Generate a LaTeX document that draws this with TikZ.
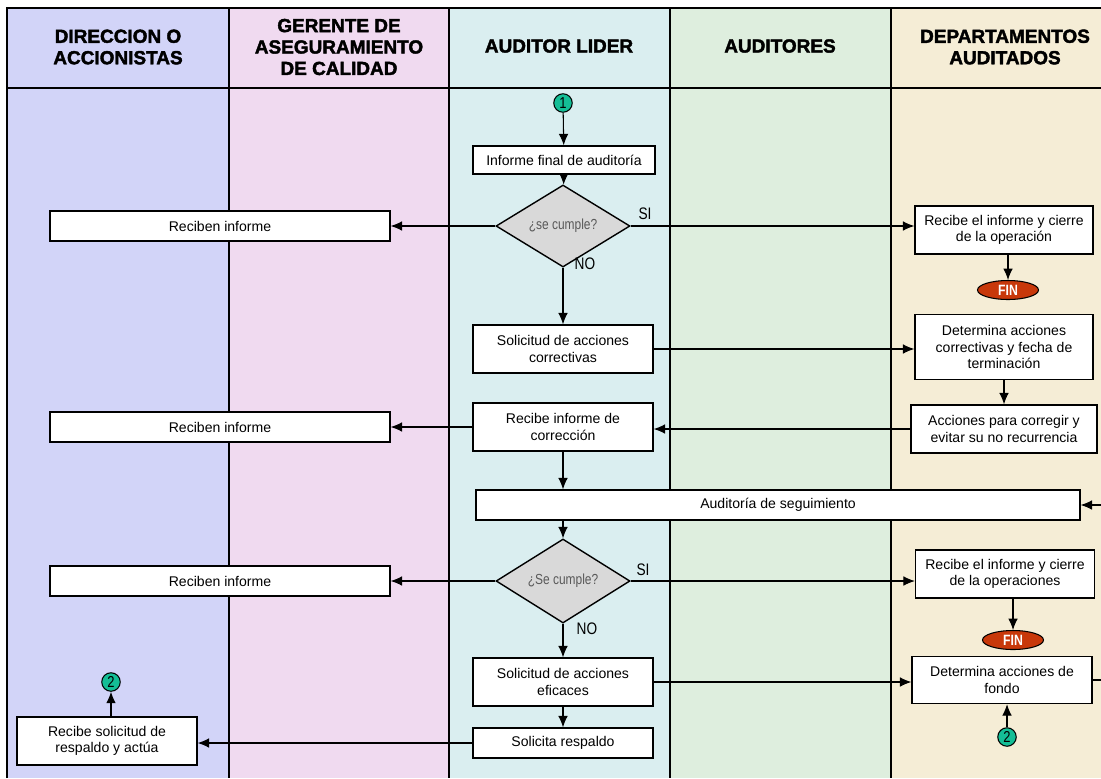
\documentclass[tikz,border=0pt]{standalone}
\usepackage{fontspec}
\setmainfont{Liberation Sans}
\newfontfamily\estrecha[FakeStretch=0.82]{Liberation Sans}
\newfontfamily\gruesa[BoldFeatures={FakeBold=2}]{Liberation Sans}
\usetikzlibrary{shapes.geometric,arrows.meta}

% Colores de los carriles
\definecolor{lila}{RGB}{210,212,248}
\definecolor{rosa}{RGB}{240,218,240}
\definecolor{celeste}{RGB}{218,238,240}
\definecolor{verdeclaro}{RGB}{222,238,222}
\definecolor{beige}{RGB}{245,237,214}
\definecolor{finrojo}{RGB}{200,56,10}
\definecolor{verdeconector}{RGB}{20,190,150}

\tikzset{
	carril/.style={draw=black, line width=0.8pt},
	titulo/.style={align=center, font=\gruesa\bfseries\fontsize{10.8}{12.2}\selectfont},
	caja/.style={draw, fill=white, line width=0.8pt, align=center, inner sep=1pt, font=\fontsize{8}{9.4}\selectfont},
	decision/.style={diamond, draw, fill=black!15, line width=0.8pt, minimum width=2.68cm, minimum height=1.16cm, inner sep=0pt, text=black!65, font=\estrecha\fontsize{8.3}{9}\selectfont},
	fin/.style={ellipse, draw=black, fill=finrojo, line width=0.6pt, minimum width=1.22cm, minimum height=0.38cm, inner sep=0pt, text=white, font=\estrecha\bfseries\fontsize{8.5}{9}\selectfont},
	conector/.style={circle, draw, fill=verdeconector, line width=0.6pt, minimum size=0.37cm, inner sep=0pt, font=\estrecha\fontsize{9}{9}\selectfont},
	rotulo/.style={font=\estrecha\fontsize{9.5}{10}\selectfont},
	flecha/.style={-{Latex[length=6.5pt,width=5.5pt]}, line width=0.6pt},
}

\begin{document}
\begin{tikzpicture}[x=0.02cm,y=-0.02cm]
		\useasboundingbox (0,0) rectangle (1101,778);
		\clip (0,0) rectangle (1101,778);

		% Carriles
		\fill[lila]       (7,8)   rectangle (229,778);
		\fill[rosa]       (229,8) rectangle (449,778);
		\fill[celeste]    (449,8) rectangle (670,778);
		\fill[verdeclaro] (670,8) rectangle (891,778);
		\fill[beige]      (891,8) rectangle (1110,778);
		\draw[carril] (7,778) -- (7,8) -- (1110,8);
		\draw[carril] (7,88) -- (1110,88);
		\foreach \x in {229,449,670,891}
			\draw[carril] (\x,8) -- (\x,778);

		% Titulos
		\node[titulo] (tdir) at (118,47)  {DIRECCION O\\ACCIONISTAS};
		\node[titulo] (tger) at (339,47)  {GERENTE DE\\ASEGURAMIENTO\\DE CALIDAD};
		\node[titulo] (tlid) at (559,46)  {AUDITOR LIDER};
		\node[titulo] (taud) at (780,46)  {AUDITORES};
		\node[titulo] (tdep) at (1005,47) {DEPARTAMENTOS\\AUDITADOS};

		% Primera revision
		\node[conector] (c1) at (563,103) {1};
		\node[caja, minimum width=3.64cm, minimum height=0.56cm] (informe) at (564,160) {Informe final de auditoría};
		\node[decision] (dec1) at (563,226) {¿se cumple?};
		\node[caja, minimum width=6.8cm, minimum height=0.6cm] (recibe1) at (220,226) {Reciben informe};
		\node[caja, minimum width=3.56cm, minimum height=0.96cm] (cierre1) at (1004,230) {Recibe el informe y cierre\\de la operación};
		\node[fin] (fin1) at (1008,290) {FIN};
		\node[rotulo] (si1) at (645,214) {SI};
		\node[rotulo] (no1) at (585,264) {NO};

		% Acciones correctivas
		\node[caja, minimum width=3.6cm, minimum height=0.96cm] (solcorr) at (563,349) {Solicitud de acciones\\correctivas};
		\node[caja, minimum width=3.56cm, minimum height=1.3cm] (detcorr) at (1004,347) {Determina acciones\\correctivas y fecha de\\terminación};
		\node[caja, minimum width=3.72cm, minimum height=0.96cm] (acciones) at (1004,429) {Acciones para corregir y\\evitar su no recurrencia};
		\node[caja, minimum width=3.6cm, minimum height=0.96cm] (recorr) at (563,427) {Recibe informe de\\corrección};
		\node[caja, minimum width=6.8cm, minimum height=0.6cm] (recibe2) at (220,427) {Reciben informe};
		\node[caja, minimum width=12.08cm, minimum height=0.6cm] (seguimiento) at (778,505) {Auditoría de seguimiento};

		% Segunda revision
		\node[decision] (dec2) at (563,581) {¿Se cumple?};
		\node[caja, minimum width=6.8cm, minimum height=0.6cm] (recibe3) at (220,581) {Reciben informe};
		\node[caja, minimum width=3.58cm, minimum height=0.96cm] (cierre2) at (1005,574) {Recibe el informe y cierre\\de la operaciones};
		\node[fin] (fin2) at (1013,640) {FIN};
		\node[rotulo] (si2) at (643,570) {SI};
		\node[rotulo] (no2) at (587,629) {NO};

		% Acciones de fondo y respaldo
		\node[caja, minimum width=3.6cm, minimum height=0.96cm] (eficaces) at (563,682) {Solicitud de acciones\\eficaces};
		\node[caja, minimum width=3.6cm, minimum height=0.94cm] (fondo) at (1002,680) {Determina acciones de\\fondo};
		\node[conector] (c2b) at (1007,737) {2};
		\node[caja, minimum width=3.6cm, minimum height=0.6cm] (respaldo) at (563,743) {Solicita respaldo};
		\node[caja, minimum width=3.6cm, minimum height=0.96cm] (solresp) at (107,741) {Recibe solicitud de\\respaldo y actúa};
		\node[conector] (c2a) at (111,682) {2};

		% Flechas
		\draw[flecha] (c1) -- (informe);
		\draw[flecha] (informe) -- (dec1);
		\draw[flecha] (dec1.west) -- (recibe1.east);
		\draw[flecha] (dec1.east) -- (cierre1.west |- dec1);
		\draw[flecha] (cierre1.south -| fin1) -- (fin1.north);
		\draw[flecha] (dec1.south) -- (solcorr.north);
		\draw[flecha] (solcorr.east) -- (detcorr.west |- solcorr);
		\draw[flecha] (detcorr) -- (acciones);
		\draw[flecha] (acciones.west) -- (recorr.east |- acciones);
		\draw[flecha] (recorr.west) -- (recibe2.east);
		\draw[flecha] (recorr.south) -- (recorr.south |- seguimiento.north);
		\draw[flecha] (seguimiento.south -| dec2) -- (dec2.north);
		\draw[flecha] (dec2.west) -- (recibe3.east);
		\draw[flecha] (dec2.east) -- (cierre2.west |- dec2);
		\draw[flecha] (cierre2.south -| fin2) -- (fin2.north);
		\draw[flecha] (dec2.south) -- (eficaces.north);
		\draw[flecha] (eficaces.east) -- (fondo.west |- eficaces);
		\draw[flecha] (eficaces) -- (respaldo);
		\draw[flecha] (respaldo.west) -- (solresp.east |- respaldo);
		\draw[flecha] (solresp.north -| c2a) -- (c2a.south);
		\draw[flecha] (c2b.north) -- (c2b |- fondo.south);
		\draw[flecha] (fondo.east) -- ++(16,0) |- (seguimiento.east);
\end{tikzpicture}
\end{document}
